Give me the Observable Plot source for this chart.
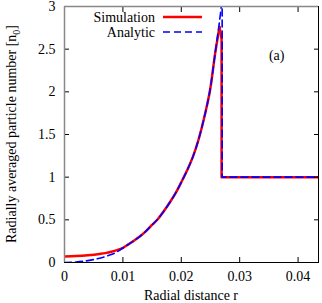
<!DOCTYPE html>
<html><head><meta charset="utf-8">
<script src="https://cdn.jsdelivr.net/npm/d3@7"></script>
<script src="https://cdn.jsdelivr.net/npm/@observablehq/plot@0.6"></script>
<style>
body{margin:0;background:#fff;}
#chart{position:relative;width:322px;height:303px;}
#chart svg, #chart svg text{font-family:"Liberation Serif","Times New Roman",Times,serif !important;}
</style></head>
<body><div id="chart"></div>
<script>
// Analytic curve: smooth rise (r, n), then jump back to the background level
const rA = [0, 0.002, 0.004, 0.006, 0.007, 0.008, 0.009, 0.010, 0.011, 0.012, 0.013, 0.014, 0.015, 0.016, 0.017, 0.018, 0.019, 0.020, 0.021, 0.022, 0.023, 0.024, 0.025, 0.0258, 0.0264, 0.02685, 0.0270];
const nA = [0, 0.006, 0.022, 0.05, 0.07, 0.093, 0.125, 0.17, 0.215, 0.26, 0.31, 0.37, 0.44, 0.51, 0.60, 0.70, 0.81, 0.94, 1.08, 1.24, 1.45, 1.72, 2.05, 2.45, 2.75, 3.0, 3.1];
const rAjump = [0.0270, 0.0270, 0.0435];
const nAjump = [3.1, 1.0, 1.0];
// Simulation curve: smooth rise (r, n), then drop to the background level
const rS = [0, 0.002, 0.004, 0.006, 0.007, 0.008, 0.009, 0.010, 0.011, 0.012, 0.013, 0.014, 0.015, 0.016, 0.017, 0.018, 0.019, 0.020, 0.021, 0.022, 0.023, 0.024, 0.025, 0.0258, 0.02655];
const nS = [0.07, 0.075, 0.085, 0.1, 0.11, 0.125, 0.145, 0.172, 0.215, 0.26, 0.31, 0.37, 0.44, 0.51, 0.60, 0.70, 0.81, 0.94, 1.08, 1.24, 1.45, 1.72, 2.05, 2.45, 2.76];
const rSjump = [0.02655, 0.0269, 0.0269, 0.0435];
const nSjump = [2.76, 2.62, 1.0, 1.0];
const xTicks = [0, 0.01, 0.02, 0.03, 0.04];
const yTicks = [0, 0.5, 1, 1.5, 2, 2.5, 3];
const seriesNames = ["Simulation", "Analytic"];
const panelLabel = "(a)";

const toRows = (xs, ys) => xs.map((r, i) => ({r, n: ys[i]}));
const fmt = d => d === 0 ? "0" : String(d);
const font = '"Liberation Serif","Times New Roman",Times,serif';
const red = "#ff0000", blue = "#0000ff";

const plot = Plot.plot({
  width: 322, height: 303,
  marginLeft: 64, marginRight: 4, marginTop: 6, marginBottom: 41,
  style: {fontFamily: font, fontSize: "14px", color: "#000", background: "#fff"},
  x: {domain: [0, 0.0435]},
  y: {domain: [0, 3]},
  marks: [
    Plot.line(toRows(rS, nS), {x: "r", y: "n", stroke: red, strokeWidth: 2.5, curve: "monotone-x", clip: true}),
    Plot.line(toRows(rSjump, nSjump), {x: "r", y: "n", stroke: red, strokeWidth: 2.5, clip: true}),
    Plot.line(toRows(rA, nA), {x: "r", y: "n", stroke: blue, strokeWidth: 1.6, strokeDasharray: "7,4", curve: "monotone-x", clip: true}),
    Plot.line(toRows(rAjump, nAjump), {x: "r", y: "n", stroke: blue, strokeWidth: 1.6, strokeDasharray: "7,4", clip: true}),
    Plot.axisX({ticks: xTicks, tickFormat: fmt, tickSize: -5, tickPadding: 14, label: null, fontSize: 14}),
    Plot.axisX({anchor: "top", ticks: xTicks, tickFormat: () => "", tickSize: -5, label: null}),
    Plot.axisY({ticks: yTicks, tickFormat: fmt, tickSize: -5, tickPadding: 14, label: null, fontSize: 14}),
    Plot.axisY({anchor: "right", ticks: yTicks, tickFormat: () => "", tickSize: -5, label: null}),
    Plot.ruleY([0], {stroke: "#000", strokeWidth: 1}),
    Plot.ruleX([0.0435], {stroke: "#000", strokeWidth: 1}),
    Plot.ruleX([0], {stroke: "#888", strokeWidth: 1.5}),
    Plot.ruleY([3], {stroke: "#888", strokeWidth: 1.5}),
    Plot.text([panelLabel], {frameAnchor: "top-right", dx: -34, dy: 44, fontSize: 14})
  ]
});
const chart = document.getElementById("chart");
chart.appendChild(plot);

const svg = d3.select(plot);
// X label
svg.append("text").attr("x", 191).attr("y", 300).attr("text-anchor", "middle")
  .attr("font-size", 14).attr("font-family", font).text("Radial distance r");
// Y label with subscript
const yl = svg.append("text").attr("transform", "translate(16,134) rotate(-90)")
  .attr("text-anchor", "middle").attr("font-size", 14).attr("font-family", font);
yl.append("tspan").text("Radially averaged particle number [n");
yl.append("tspan").attr("font-size", 10).attr("dy", 4).text("0");
yl.append("tspan").attr("dy", -4).text("]");
// Legend
const leg = svg.append("g").attr("font-family", font).attr("font-size", 14);
const styles = [{stroke: red, w: 2.5, dash: null}, {stroke: blue, w: 1.6, dash: "7,4"}];
seriesNames.forEach((name, i) => {
  const y = 17 + i * 15;
  leg.append("text").attr("x", 155).attr("y", y + 4.5).attr("text-anchor", "end").text(name);
  leg.append("line").attr("x1", 163).attr("x2", 202).attr("y1", y).attr("y2", y)
    .attr("stroke", styles[i].stroke).attr("stroke-width", styles[i].w)
    .attr("stroke-dasharray", styles[i].dash);
});
</script></body></html>
